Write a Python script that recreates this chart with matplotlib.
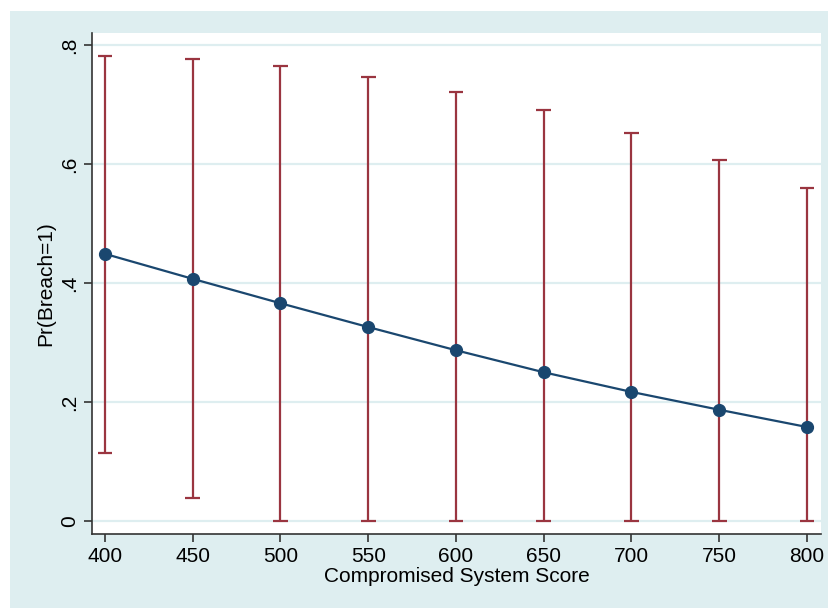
import matplotlib
matplotlib.use("Agg")
import matplotlib.pyplot as plt
from matplotlib.patches import Rectangle

scores = [400, 450, 500, 550, 600, 650, 700, 750, 800]
pr_breach = [0.449, 0.407, 0.366, 0.326, 0.287, 0.250, 0.217, 0.187, 0.158]
ci_upper = [0.781, 0.776, 0.765, 0.746, 0.721, 0.691, 0.652, 0.607, 0.560]
ci_lower = [0.114, 0.039, 0.0, 0.0, 0.0, 0.0, 0.0, 0.0, 0.0]
yticks = [0, 0.2, 0.4, 0.6, 0.8]
ytick_labels = ["0", ".2", ".4", ".6", ".8"]
xticks = [400, 450, 500, 550, 600, 650, 700, 750, 800]

plt.rcParams['font.family'] = ['Liberation Sans', 'DejaVu Sans']

W, H = 829, 608
fig = plt.figure(figsize=(W / 100, H / 100), dpi=100, facecolor='white')
bg = '#deeef0'
fig.patches.append(Rectangle((10 / W, 0), 1 - 10 / W, 1 - 11 / H,
                             transform=fig.transFigure, facecolor=bg,
                             edgecolor='none', zorder=-10))

ax = fig.add_axes([92 / W, 1 - 534 / H, (821 - 92) / W, (534 - 33) / H])
ax.set_facecolor('white')

ci_color = '#9a3540'
line_color = '#1a476f'

ax.vlines(scores, ci_lower, ci_upper, color=ci_color, lw=1.6, zorder=2)
cap_half = 4.2
ax.hlines(ci_upper, [s - cap_half for s in scores], [s + cap_half for s in scores],
          color=ci_color, lw=1.6, zorder=2)
ax.hlines(ci_lower, [s - cap_half for s in scores], [s + cap_half for s in scores],
          color=ci_color, lw=1.6, zorder=2)
ax.plot(scores, pr_breach, color=line_color, lw=1.6, marker='o', ms=8.5,
        markerfacecolor=line_color, markeredgecolor=line_color, zorder=3)

ax.set_xlim(392.6, 808.0)
ax.set_ylim(-0.0218, 0.8202)
ax.set_yticks(yticks)
ax.set_yticklabels(ytick_labels, rotation=90, va='center')
ax.set_xticks(xticks)
ax.grid(axis='y', color=bg, lw=1.6, zorder=0)
ax.set_axisbelow(True)

for s in ['top', 'right']:
    ax.spines[s].set_visible(False)
for s in ['left', 'bottom']:
    ax.spines[s].set_color('#333333')
    ax.spines[s].set_linewidth(1.2)
ax.tick_params(axis='both', length=6, width=1.2, color='#333333',
               labelsize=15, pad=3)

ax.set_xlabel('Compromised System Score', fontsize=15, labelpad=1)
ax.set_ylabel('Pr(Breach=1)', fontsize=15, labelpad=4)

fig.savefig('out.png', dpi=100, facecolor=fig.get_facecolor())
